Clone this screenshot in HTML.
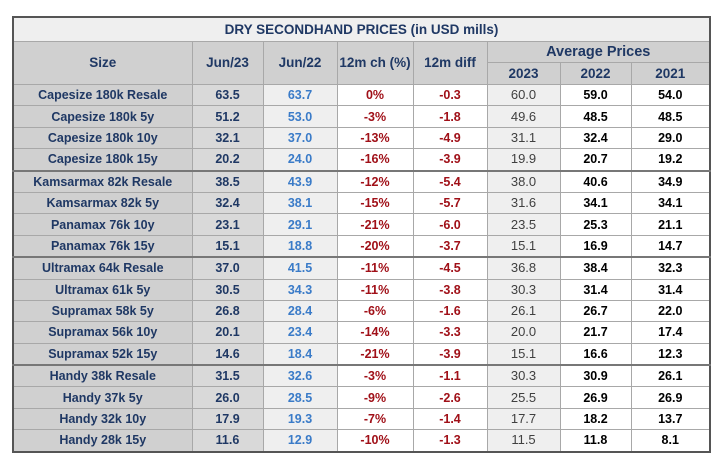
<!DOCTYPE html>
<html><head><style>
body{margin:0;width:718px;height:459px;background:#fff;overflow:hidden;font-family:"Liberation Sans",Arial,sans-serif;}
table{position:absolute;left:12px;top:16px;border-collapse:collapse;table-layout:fixed;border:2px solid #555;}
td{border:1px solid #a8a8a8;text-align:center;font-weight:bold;font-size:12.5px;line-height:14px;color:#1f3864;padding:0;height:20.4px;white-space:nowrap;overflow:hidden;}
.t td{background:#efefef;height:23px;font-size:13.5px;}
.h td{background:#d0d0d0;font-size:13.5px;}
td.s{background:#d0d0d0;}
td.a{background:#d9d9d9;}
td.b{background:#efefef;color:#3a7bc8;}
td.r{background:#fff;color:#a01018;}
td.g{background:#efefef;color:#404040;font-weight:normal;font-size:13px;}
td.k{background:#fff;color:#000;}
tr.sep td{border-top:2px solid #777;}
</style></head><body>
<table>
<colgroup><col style="width:179px"><col style="width:71px"><col style="width:74px"><col style="width:76px"><col style="width:74px"><col style="width:73px"><col style="width:71px"><col style="width:79px"></colgroup>
<tr class="t"><td colspan="8">DRY SECONDHAND PRICES (in USD mills)</td></tr>
<tr class="h"><td rowspan="2" style="height:42px">Size</td><td rowspan="2">Jun/23</td><td rowspan="2">Jun/22</td><td rowspan="2">12m ch (%)</td><td rowspan="2">12m diff</td><td colspan="3" style="height:20px;font-size:14.5px">Average Prices</td></tr>
<tr class="h"><td style="height:20px">2023</td><td>2022</td><td>2021</td></tr>
<tr><td class="s">Capesize 180k Resale</td><td class="a">63.5</td><td class="b">63.7</td><td class="r">0%</td><td class="r">-0.3</td><td class="g">60.0</td><td class="k">59.0</td><td class="k">54.0</td></tr>
<tr><td class="s">Capesize 180k 5y</td><td class="a">51.2</td><td class="b">53.0</td><td class="r">-3%</td><td class="r">-1.8</td><td class="g">49.6</td><td class="k">48.5</td><td class="k">48.5</td></tr>
<tr><td class="s">Capesize 180k 10y</td><td class="a">32.1</td><td class="b">37.0</td><td class="r">-13%</td><td class="r">-4.9</td><td class="g">31.1</td><td class="k">32.4</td><td class="k">29.0</td></tr>
<tr><td class="s">Capesize 180k 15y</td><td class="a">20.2</td><td class="b">24.0</td><td class="r">-16%</td><td class="r">-3.9</td><td class="g">19.9</td><td class="k">20.7</td><td class="k">19.2</td></tr>
<tr class="sep"><td class="s">Kamsarmax 82k Resale</td><td class="a">38.5</td><td class="b">43.9</td><td class="r">-12%</td><td class="r">-5.4</td><td class="g">38.0</td><td class="k">40.6</td><td class="k">34.9</td></tr>
<tr><td class="s">Kamsarmax 82k 5y</td><td class="a">32.4</td><td class="b">38.1</td><td class="r">-15%</td><td class="r">-5.7</td><td class="g">31.6</td><td class="k">34.1</td><td class="k">34.1</td></tr>
<tr><td class="s">Panamax 76k 10y</td><td class="a">23.1</td><td class="b">29.1</td><td class="r">-21%</td><td class="r">-6.0</td><td class="g">23.5</td><td class="k">25.3</td><td class="k">21.1</td></tr>
<tr><td class="s">Panamax 76k 15y</td><td class="a">15.1</td><td class="b">18.8</td><td class="r">-20%</td><td class="r">-3.7</td><td class="g">15.1</td><td class="k">16.9</td><td class="k">14.7</td></tr>
<tr class="sep"><td class="s">Ultramax 64k Resale</td><td class="a">37.0</td><td class="b">41.5</td><td class="r">-11%</td><td class="r">-4.5</td><td class="g">36.8</td><td class="k">38.4</td><td class="k">32.3</td></tr>
<tr><td class="s">Ultramax 61k 5y</td><td class="a">30.5</td><td class="b">34.3</td><td class="r">-11%</td><td class="r">-3.8</td><td class="g">30.3</td><td class="k">31.4</td><td class="k">31.4</td></tr>
<tr><td class="s">Supramax 58k 5y</td><td class="a">26.8</td><td class="b">28.4</td><td class="r">-6%</td><td class="r">-1.6</td><td class="g">26.1</td><td class="k">26.7</td><td class="k">22.0</td></tr>
<tr><td class="s">Supramax 56k 10y</td><td class="a">20.1</td><td class="b">23.4</td><td class="r">-14%</td><td class="r">-3.3</td><td class="g">20.0</td><td class="k">21.7</td><td class="k">17.4</td></tr>
<tr><td class="s">Supramax 52k 15y</td><td class="a">14.6</td><td class="b">18.4</td><td class="r">-21%</td><td class="r">-3.9</td><td class="g">15.1</td><td class="k">16.6</td><td class="k">12.3</td></tr>
<tr class="sep"><td class="s">Handy 38k Resale</td><td class="a">31.5</td><td class="b">32.6</td><td class="r">-3%</td><td class="r">-1.1</td><td class="g">30.3</td><td class="k">30.9</td><td class="k">26.1</td></tr>
<tr><td class="s">Handy 37k 5y</td><td class="a">26.0</td><td class="b">28.5</td><td class="r">-9%</td><td class="r">-2.6</td><td class="g">25.5</td><td class="k">26.9</td><td class="k">26.9</td></tr>
<tr><td class="s">Handy 32k 10y</td><td class="a">17.9</td><td class="b">19.3</td><td class="r">-7%</td><td class="r">-1.4</td><td class="g">17.7</td><td class="k">18.2</td><td class="k">13.7</td></tr>
<tr><td class="s">Handy 28k 15y</td><td class="a">11.6</td><td class="b">12.9</td><td class="r">-10%</td><td class="r">-1.3</td><td class="g">11.5</td><td class="k">11.8</td><td class="k">8.1</td></tr>
</table>
</body></html>
